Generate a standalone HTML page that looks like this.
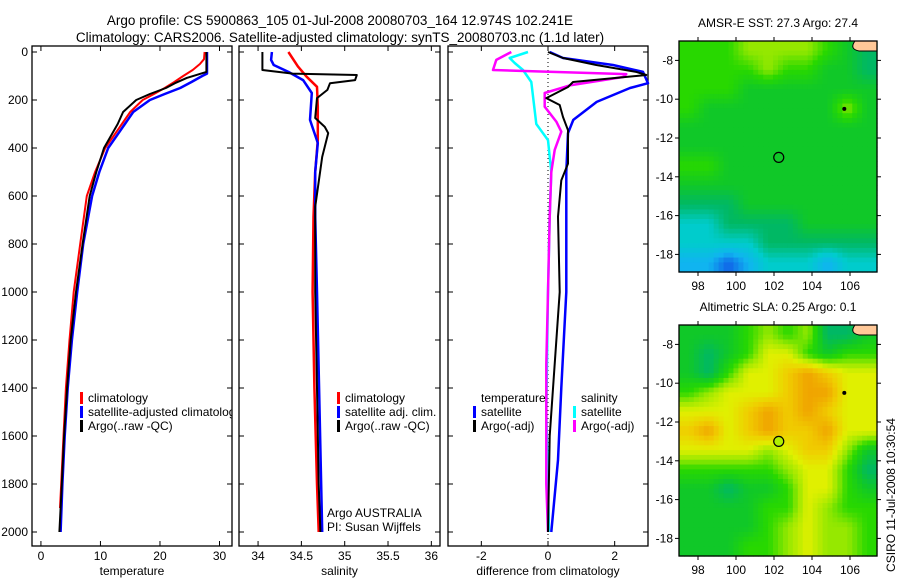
<!DOCTYPE html>
<html><head><meta charset="utf-8"><style>
body{margin:0;background:#fff;}
svg{display:block;font-family:"Liberation Sans",sans-serif;}
text{fill:#000;}
</style></head><body>
<svg id="c" width="900" height="580" viewBox="0 0 900 580">
<text x="340" y="25" font-size="13.5" text-anchor="middle">Argo profile: CS 5900863_105 01-Jul-2008 20080703_164 12.974S 102.241E</text>
<text x="340" y="42" font-size="13.5" text-anchor="middle">Climatology: CARS2006. Satellite-adjusted climatology: synTS_20080703.nc (1.1d later)</text>
<g id="g"></g>
</svg>
<script>
// ---- data ----
const depthTicks=[0,200,400,600,800,1000,1200,1400,1600,1800,2000];
const tempTicks=[0,10,20,30];
const salTicks=[34,34.5,35,35.5,36];
const salTickLabels=["34","34.5","35","35.5","36"];
const diffTicks=[-2,0,2];
const tClimD=[0,30,50,75,100,125,150,175,200,250,300,400,500,600,800,1000,1200,1400,1600,1800,1900];
const tClimV=[27.5,27.4,26.7,25.5,23.9,22.4,20.8,19.0,17.1,15.0,13.6,10.8,9.1,7.7,6.6,5.5,4.8,4.2,3.8,3.4,3.2];
const tSatD=[0,90,100,125,150,175,200,250,300,400,500,600,800,1000,1200,1400,1600,1800,2000];
const tSatV=[27.9,27.9,27.1,25.3,23.4,20.8,18.3,15.5,14.1,11.3,9.8,8.6,7.1,6.1,5.2,4.5,4.0,3.6,3.3];
const tArgoD=[0,83,108,130,150,175,200,250,300,400,500,600,800,1000,1200,1400,1600,1800,2000];
const tArgoV=[27.8,27.8,24.5,22.5,21.0,18.3,16.0,13.8,12.9,10.6,9.3,8.2,7.0,5.9,5.0,4.4,3.9,3.5,3.1];
const sClimD=[0,60,103,145,228,367,500,687,1000,1400,1800,2000];
const sClimV=[34.35,34.46,34.56,34.68,34.69,34.69,34.66,34.64,34.63,34.65,34.68,34.70];
const sSatD=[0,33,54,83,117,171,283,379,500,687,1000,1500,2000];
const sSatV=[34.16,34.15,34.18,34.35,34.52,34.62,34.60,34.69,34.66,34.66,34.68,34.71,34.74];
const sArgoD=[0,75,90,96,117,130,158,192,275,312,338,437,645,1000,1400,1800,2000];
const sArgoV=[34.05,34.05,34.4,35.14,35.12,34.83,34.80,34.68,34.66,34.77,34.81,34.74,34.66,34.66,34.68,34.70,34.72];
const dTSatD=[0,25,54,83,130,150,208,283,338,500,687,1000,1400,1700,2000];
const dTSatV=[0.05,0.45,1.95,2.85,3.0,2.46,1.46,0.76,0.6,0.55,0.55,0.55,0.4,0.3,0.1];
const dTArgoD=[0,25,54,83,96,125,146,192,221,271,326,465,535,686,1000,1300,1600,2000];
const dTArgoV=[0,0.45,1.45,2.65,2.95,0.75,0.6,-0.05,0.35,0.45,0.6,0.6,0.4,0.3,0.35,0.2,0.05,0];
const dSSatD=[0,25,46,75,125,300,367,500,687,1000,1500,2000];
const dSSatV=[-0.6,-1.15,-1.0,-0.75,-0.5,-0.35,0,0.1,0.05,0.0,-0.05,0.03];
const dSArgoD=[0,33,75,92,104,139,171,228,290,332,408,500,687,1000,1300,1800,2000];
const dSArgoV=[-1.1,-1.55,-1.65,2.35,2.25,0.65,-0.1,-0.1,0.25,0.4,0.2,0.1,0.05,0.0,-0.05,-0.05,0.0];
const sstGrid=[
"5556666543","5555655443","5554444444","5444444464","4444444444","4444444444",
"5544444444","4444444444","3334444444","2233334444","2222333333","1101222122"];
const slaGrid=[
"4445656334","4345775455","4357789877","5677789977","7778989877","8978988977",
"7777678864","5555567753","4434457754","4444557655","4444567665","4445567665"];
const mapLonTicks=[98,100,102,104,106];
const mapLatTicks=[-8,-10,-12,-14,-16,-18];
const argoLon=102.25, argoLat=-13;

const NS="http://www.w3.org/2000/svg";
const G=document.getElementById('g');
function el(t,a,p){const e=document.createElementNS(NS,t);for(const k in a)e.setAttribute(k,a[k]);(p||G).appendChild(e);return e;}
const top0=52, pyScale=0.24;
const Y=d=>top0+d*pyScale;
const panels=[
 {x0:32,x1:232,lo:-1.5,hi:32.1,name:'temperature'},
 {x0:239,x1:440,lo:33.78,hi:36.1,name:'salinity'},
 {x0:448,x1:648,lo:-3,hi:3,name:'difference'}];
panels.forEach(p=>{p.X=v=>p.x0+(v-p.lo)/(p.hi-p.lo)*(p.x1-p.x0);});
const P0=panels[0],P1=panels[1],P2=panels[2];

function frame(p,xt,xl,label){
  const r=el('rect',{x:p.x0,y:46,width:p.x1-p.x0,height:500,fill:'none',stroke:'#000','stroke-width':1.3});
  
  
  depthTicks.forEach(d=>{
    el('line',{x1:p.x0,x2:p.x0+5,y1:Y(d),y2:Y(d),stroke:'#000'});
    el('line',{x1:p.x1,x2:p.x1-5,y1:Y(d),y2:Y(d),stroke:'#000'});
  });
  xt.forEach((v,i)=>{
    const x=p.X(v);
    el('line',{x1:x,x2:x,y1:546,y2:541,stroke:'#000'});
    el('line',{x1:x,x2:x,y1:46,y2:51,stroke:'#000'});
    const t=el('text',{x:x,y:560,'font-size':12,'text-anchor':'middle'});t.textContent=xl[i];
    
    
  });
  const t=el('text',{x:(p.x0+p.x1)/2,y:575,'font-size':12,'text-anchor':'middle'});t.textContent=label;
  
  
}
frame(P0,tempTicks,tempTicks.map(String),'temperature');
frame(P1,salTicks,salTickLabels,'salinity');
frame(P2,diffTicks,diffTicks.map(String),'difference from climatology');
depthTicks.forEach(d=>{
  const t=el('text',{x:28,y:Y(d)+4,'font-size':12,'text-anchor':'end'});t.textContent=String(d);
  
  
});
const z=el('line',{x1:P2.X(0),x2:P2.X(0),y1:46,y2:546,stroke:'#000','stroke-dasharray':'1,3'});



function line(p,D,V,col,w,name){
  const pts=D.map((d,i)=>p.X(V[i]).toFixed(1)+','+Y(d).toFixed(1)).join(' ');
  const l=el('polyline',{points:pts,fill:'none',stroke:col,'stroke-width':w,'stroke-linejoin':'round'});
  
  
}
line(P0,tSatD,tSatV,'#0000ff',2.5,'temp-satellite-line');
line(P0,tClimD,tClimV,'#ff0000',2,'temp-climatology-line');
line(P0,tArgoD,tArgoV,'#000',2,'temp-argo-line');
line(P1,sClimD,sClimV,'#ff0000',2.5,'sal-climatology-line');
line(P1,sSatD,sSatV,'#0000ff',2.5,'sal-satellite-line');
line(P1,sArgoD,sArgoV,'#000',2,'sal-argo-line');
line(P2,dSSatD,dSSatV,'#00ffff',2.5,'diff-sal-satellite-line');
line(P2,dSArgoD,dSArgoV,'#ff00ff',2.5,'diff-sal-argo-line');
line(P2,dTSatD,dTSatV,'#0000ff',2.5,'diff-temp-satellite-line');
line(P2,dTArgoD,dTArgoV,'#000',2,'diff-temp-argo-line');

function legend(x,y,col,txt,name,clip){
  if(col){const b=el('rect',{x:x-8,y:y-10,width:3,height:12,fill:col});
    
    }
  const t=el('text',{x:x,y:y,'font-size':12});t.textContent=txt;
  
  
  if(clip)t.setAttribute('clip-path','url(#cp1)');
}
const cp=el('clipPath',{id:'cp1'});el('rect',{x:32,y:46,width:200,height:500},cp);
legend(88,402,'#ff0000','climatology','legend-temp-climatology');
legend(88,416,'#0000ff','satellite-adjusted climatology','legend-temp-satellite',true);
legend(88,430,'#000','Argo(..raw -QC)','legend-temp-argo');
legend(345,402,'#ff0000','climatology','legend-sal-climatology');
legend(345,416,'#0000ff','satellite adj. clim.','legend-sal-satellite');
legend(345,430,'#000','Argo(..raw -QC)','legend-sal-argo');
legend(327,517,null,'Argo AUSTRALIA','program-label');
legend(327,531,null,'PI: Susan Wijffels','pi-label');
legend(481,402,null,'temperature','legend-temp-header');
legend(481,416,'#0000ff','satellite','legend-diff-temp-satellite');
legend(481,430,'#000','Argo(-adj)','legend-diff-temp-argo');
legend(581,402,null,'salinity','legend-sal-header');
legend(581,416,'#00ffff','satellite','legend-diff-sal-satellite');
legend(581,430,'#ff00ff','Argo(-adj)','legend-diff-sal-argo');

// ---- maps ----
const pal=[[16,100,232],[16,180,240],[0,204,204],[0,184,100],[16,200,40],[40,216,0],[150,232,0],[224,240,0],[240,204,0],[240,164,0],[224,132,0]];
function colorAt(v){v=Math.max(0,Math.min(10,v));const i=Math.min(9,Math.floor(v)),f=v-i;
  const a=pal[i],b=pal[i+1];return 'rgb('+a.map((c,k)=>Math.round(c+(b[k]-c)*f)).join(',')+')';}
function map(top,grid,title,name){
  const x0=679,x1=877,bot=top+231;
  const LX=l=>x0+(l-97)*19.0, LY=l=>top+(-7-l)*19.4;
  const rows=grid.length, cols=grid[0].length;
  const g=(i,j)=>+grid[Math.max(0,Math.min(rows-1,i))][Math.max(0,Math.min(cols-1,j))];
  const sub=4, nr=rows*sub, nc=cols*sub, cw=(x1-x0)/nc, ch=(bot-top)/nr;
  for(let i=0;i<nr;i++)for(let j=0;j<nc;j++){
    const fy=(i+0.5)/sub-0.5, fx=(j+0.5)/sub-0.5;
    const i0=Math.floor(fy), j0=Math.floor(fx), ty=fy-i0, tx=fx-j0;
    const v=g(i0,j0)*(1-tx)*(1-ty)+g(i0,j0+1)*tx*(1-ty)+g(i0+1,j0)*(1-tx)*ty+g(i0+1,j0+1)*tx*ty;
    const c=el('rect',{x:(x0+j*cw).toFixed(2),y:(top+i*ch).toFixed(2),width:(cw+0.6).toFixed(2),height:(ch+0.6).toFixed(2),fill:colorAt(v)});
    
    
  }
  const land=el('path',{d:`M${x1-22},${top} Q${x1-28},${top+8} ${x1-18},${top+10} L${x1},${top+10} L${x1},${top} Z`,fill:'#ffc898',stroke:'#000','stroke-width':1});
  
  
  const isl=el('circle',{cx:LX(105.7),cy:LY(-10.5),r:2,fill:'#000'});
  
  
  const fr=el('rect',{x:x0,y:top,width:x1-x0,height:bot-top,fill:'none',stroke:'#000','stroke-width':1.3});
  
  
  mapLonTicks.forEach(l=>{const x=LX(l);
    el('line',{x1:x,x2:x,y1:bot,y2:bot+4,stroke:'#000'});el('line',{x1:x,x2:x,y1:top,y2:top-4,stroke:'#000'});
    const t=el('text',{x:x,y:bot+18,'font-size':12,'text-anchor':'middle'});t.textContent=String(l);
    
    });
  mapLatTicks.forEach(l=>{const y=LY(l);
    el('line',{x1:x0,x2:x0-4,y1:y,y2:y,stroke:'#000'});el('line',{x1:x1,x2:x1+4,y1:y,y2:y,stroke:'#000'});
    const t=el('text',{x:x0-6,y:y+4,'font-size':12,'text-anchor':'end'});t.textContent=String(l);
    
    });
  const ci=el('circle',{cx:LX(argoLon),cy:LY(argoLat),r:5,fill:name==='sla-map'?'#b0f000':'none',stroke:'#000','stroke-width':1.2});
  
  
  const t=el('text',{x:(x0+x1)/2,y:top-14,'font-size':12,'text-anchor':'middle'});t.textContent=title;
  
  
}
map(41,sstGrid,'AMSR-E SST: 27.3 Argo: 27.4','sst-map');
map(325,slaGrid,'Altimetric SLA: 0.25 Argo: 0.1','sla-map');
const cs=el('text',{x:0,y:0,'font-size':12,'text-anchor':'middle',transform:'translate(895,495) rotate(-90)'});
cs.textContent='CSIRO 11-Jul-2008 10:30:54';


</script>
</body></html>
